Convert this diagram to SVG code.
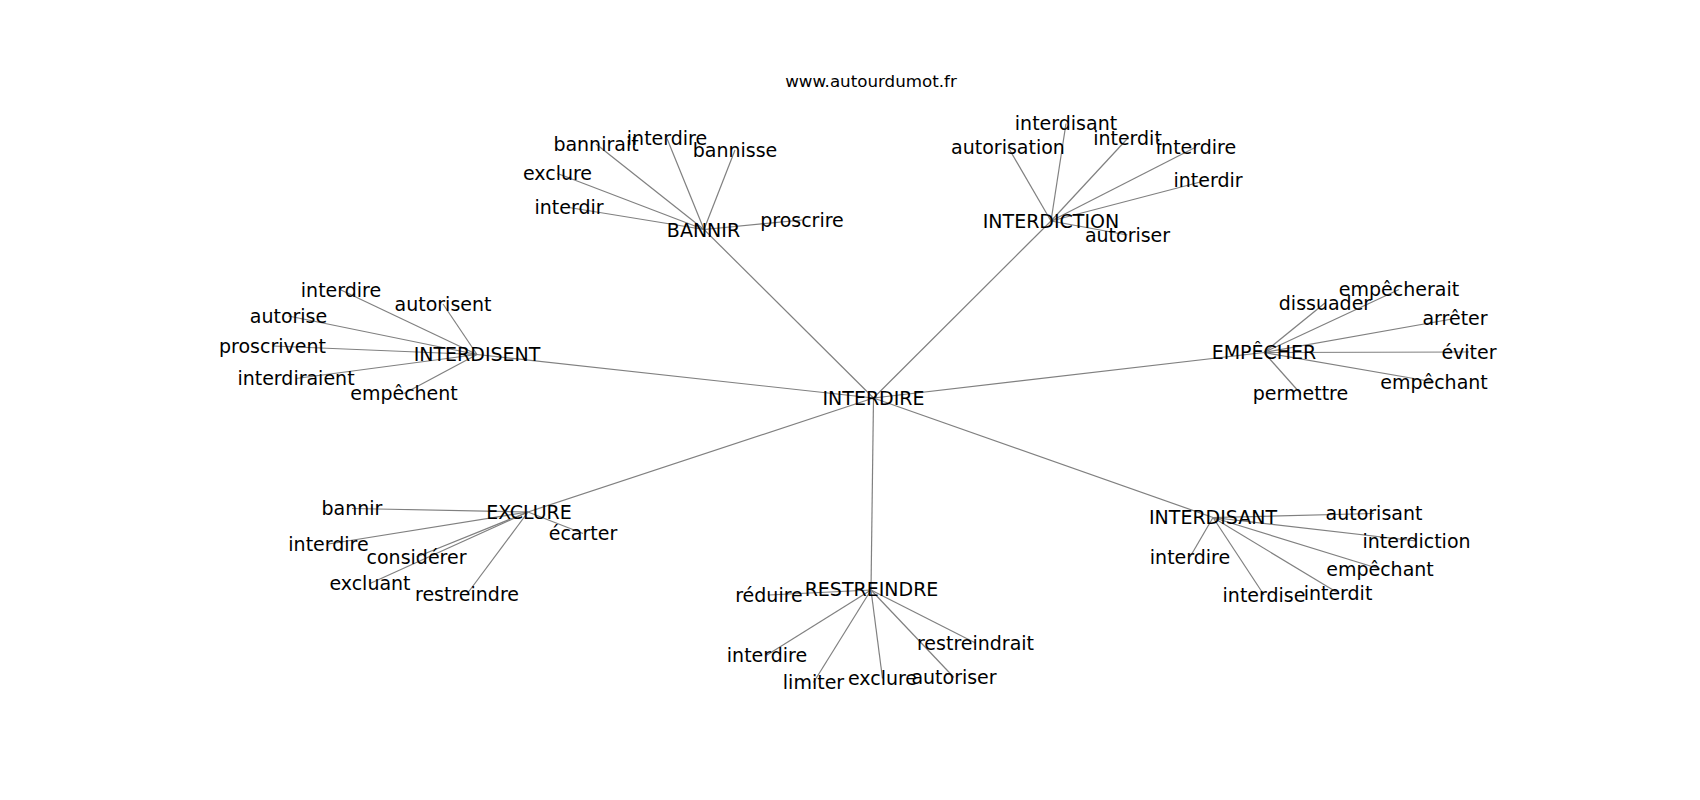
<svg xmlns="http://www.w3.org/2000/svg" width="1700" height="800" viewBox="0 0 1700 800">
<style>
text{font-family:"DejaVu Sans","Liberation Sans",sans-serif;fill:#000;text-anchor:middle}
.n{font-size:19px}
.t{font-size:16.7px}
#edges line{stroke:#808080;stroke-width:1.2}
</style>
<rect width="1700" height="800" fill="#fff"/>
<text class="t" x="871" y="87">www.autourdumot.fr</text>
<g id="edges">
<line x1="873.5" y1="398" x2="704" y2="229.5"/>
<line x1="873.5" y1="398" x2="1051" y2="221"/>
<line x1="873.5" y1="398" x2="477" y2="354.5"/>
<line x1="873.5" y1="398" x2="1264" y2="352.5"/>
<line x1="873.5" y1="398" x2="528" y2="512"/>
<line x1="873.5" y1="398" x2="871" y2="590"/>
<line x1="873.5" y1="398" x2="1213" y2="517.5"/>
<line x1="704" y1="229.5" x2="596" y2="144"/>
<line x1="704" y1="229.5" x2="667" y2="138.5"/>
<line x1="704" y1="229.5" x2="735" y2="150"/>
<line x1="704" y1="229.5" x2="557.5" y2="173.5"/>
<line x1="704" y1="229.5" x2="569" y2="207.5"/>
<line x1="704" y1="229.5" x2="802" y2="220"/>
<line x1="1051" y1="221" x2="1066" y2="123.5"/>
<line x1="1051" y1="221" x2="1008" y2="147"/>
<line x1="1051" y1="221" x2="1127.5" y2="138.5"/>
<line x1="1051" y1="221" x2="1196" y2="147"/>
<line x1="1051" y1="221" x2="1208" y2="180"/>
<line x1="1051" y1="221" x2="1127.5" y2="235"/>
<line x1="477" y1="354.5" x2="341" y2="290"/>
<line x1="477" y1="354.5" x2="443" y2="304"/>
<line x1="477" y1="354.5" x2="288.5" y2="316"/>
<line x1="477" y1="354.5" x2="272.5" y2="346"/>
<line x1="477" y1="354.5" x2="296" y2="378.5"/>
<line x1="477" y1="354.5" x2="404" y2="393.5"/>
<line x1="1264" y1="352.5" x2="1399" y2="289.5"/>
<line x1="1264" y1="352.5" x2="1325" y2="303"/>
<line x1="1264" y1="352.5" x2="1455" y2="318.5"/>
<line x1="1264" y1="352.5" x2="1469" y2="352"/>
<line x1="1264" y1="352.5" x2="1434" y2="382"/>
<line x1="1264" y1="352.5" x2="1300.5" y2="393.5"/>
<line x1="528" y1="512" x2="352" y2="508.5"/>
<line x1="528" y1="512" x2="328.5" y2="544"/>
<line x1="528" y1="512" x2="416.5" y2="557"/>
<line x1="528" y1="512" x2="370" y2="583.5"/>
<line x1="528" y1="512" x2="467" y2="594"/>
<line x1="528" y1="512" x2="583" y2="533.5"/>
<line x1="871" y1="590" x2="769" y2="595"/>
<line x1="871" y1="590" x2="767" y2="655"/>
<line x1="871" y1="590" x2="813.5" y2="682.5"/>
<line x1="871" y1="590" x2="882.5" y2="678.5"/>
<line x1="871" y1="590" x2="954" y2="677.5"/>
<line x1="871" y1="590" x2="975.5" y2="643"/>
<line x1="1213" y1="517.5" x2="1374" y2="513.5"/>
<line x1="1213" y1="517.5" x2="1416.5" y2="541"/>
<line x1="1213" y1="517.5" x2="1380" y2="569"/>
<line x1="1213" y1="517.5" x2="1264" y2="595"/>
<line x1="1213" y1="517.5" x2="1338" y2="593"/>
<line x1="1213" y1="517.5" x2="1190" y2="557"/>
</g>
<g id="n-interdire-hub"><text class="n" x="873.5" y="404.5">INTERDIRE</text></g>
<g id="n-bannir"><text class="n" x="703.5" y="236.5">BANNIR</text></g>
<g id="n-bannir-bannirait"><text class="n" x="596" y="150.5">bannirait</text></g>
<g id="n-bannir-interdire"><text class="n" x="667" y="145">interdire</text></g>
<g id="n-bannir-bannisse"><text class="n" x="735" y="156.5">bannisse</text></g>
<g id="n-bannir-exclure"><text class="n" x="557.5" y="180">exclure</text></g>
<g id="n-bannir-interdir"><text class="n" x="569" y="214">interdir</text></g>
<g id="n-bannir-proscrire"><text class="n" x="802" y="226.5">proscrire</text></g>
<g id="n-interdiction"><text class="n" x="1051" y="227.5">INTERDICTION</text></g>
<g id="n-interdiction-interdisant"><text class="n" x="1066" y="130">interdisant</text></g>
<g id="n-interdiction-autorisation"><text class="n" x="1008" y="153.5">autorisation</text></g>
<g id="n-interdiction-interdit"><text class="n" x="1127.5" y="145">interdit</text></g>
<g id="n-interdiction-interdire"><text class="n" x="1196" y="153.5">interdire</text></g>
<g id="n-interdiction-interdir"><text class="n" x="1208" y="186.5">interdir</text></g>
<g id="n-interdiction-autoriser"><text class="n" x="1127.5" y="241.5">autoriser</text></g>
<g id="n-interdisent"><text class="n" x="477" y="361">INTERDISENT</text></g>
<g id="n-interdisent-interdire"><text class="n" x="341" y="296.5">interdire</text></g>
<g id="n-interdisent-autorisent"><text class="n" x="443" y="310.5">autorisent</text></g>
<g id="n-interdisent-autorise"><text class="n" x="288.5" y="322.5">autorise</text></g>
<g id="n-interdisent-proscrivent"><text class="n" x="272.5" y="352.5">proscrivent</text></g>
<g id="n-interdisent-interdiraient"><text class="n" x="296" y="385">interdiraient</text></g>
<g id="n-interdisent-empechent"><text class="n" x="404" y="400">empêchent</text></g>
<g id="n-empecher"><text class="n" x="1264" y="359">EMPÊCHER</text></g>
<g id="n-empecher-empecherait"><text class="n" x="1399" y="296">empêcherait</text></g>
<g id="n-empecher-dissuader"><text class="n" x="1325" y="309.5">dissuader</text></g>
<g id="n-empecher-arreter"><text class="n" x="1455" y="325">arrêter</text></g>
<g id="n-empecher-eviter"><text class="n" x="1469" y="358.5">éviter</text></g>
<g id="n-empecher-empechant"><text class="n" x="1434" y="388.5">empêchant</text></g>
<g id="n-empecher-permettre"><text class="n" x="1300.5" y="400">permettre</text></g>
<g id="n-exclure"><text class="n" x="529" y="518.5">EXCLURE</text></g>
<g id="n-exclure-bannir"><text class="n" x="352" y="515">bannir</text></g>
<g id="n-exclure-interdire"><text class="n" x="328.5" y="550.5">interdire</text></g>
<g id="n-exclure-considerer"><text class="n" x="416.5" y="563.5">considérer</text></g>
<g id="n-exclure-excluant"><text class="n" x="370" y="590">excluant</text></g>
<g id="n-exclure-restreindre"><text class="n" x="467" y="600.5">restreindre</text></g>
<g id="n-exclure-ecarter"><text class="n" x="583" y="540">écarter</text></g>
<g id="n-restreindre"><text class="n" x="871.5" y="596">RESTREINDRE</text></g>
<g id="n-restreindre-reduire"><text class="n" x="769" y="601.5">réduire</text></g>
<g id="n-restreindre-interdire"><text class="n" x="767" y="661.5">interdire</text></g>
<g id="n-restreindre-limiter"><text class="n" x="813.5" y="689">limiter</text></g>
<g id="n-restreindre-exclure"><text class="n" x="882.5" y="685">exclure</text></g>
<g id="n-restreindre-autoriser"><text class="n" x="954" y="684">autoriser</text></g>
<g id="n-restreindre-restreindrait"><text class="n" x="975.5" y="649.5">restreindrait</text></g>
<g id="n-interdisant"><text class="n" x="1213" y="524">INTERDISANT</text></g>
<g id="n-interdisant-autorisant"><text class="n" x="1374" y="520">autorisant</text></g>
<g id="n-interdisant-interdiction"><text class="n" x="1416.5" y="547.5">interdiction</text></g>
<g id="n-interdisant-empechant"><text class="n" x="1380" y="575.5">empêchant</text></g>
<g id="n-interdisant-interdise"><text class="n" x="1264" y="601.5">interdise</text></g>
<g id="n-interdisant-interdit"><text class="n" x="1338" y="599.5">interdit</text></g>
<g id="n-interdisant-interdire"><text class="n" x="1190" y="563.5">interdire</text></g>
</svg>
